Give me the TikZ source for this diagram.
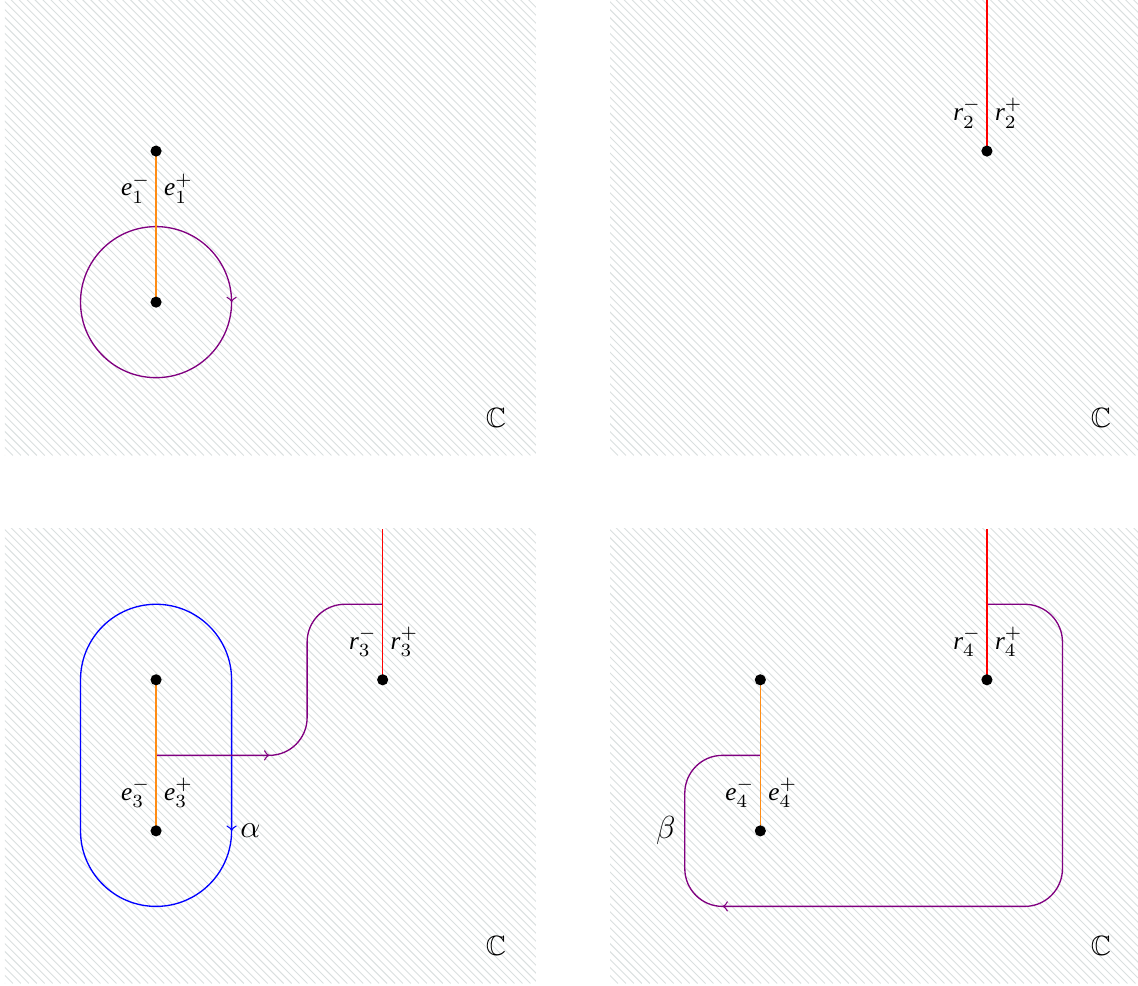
\documentclass[tikz,border=0pt]{standalone}
\usepackage{amssymb}
\usepackage{fontspec}
\setmainfont{Liberation Serif}
\definecolor{hatch}{RGB}{218,223,223}
\definecolor{mypurple}{RGB}{128,0,128}
\definecolor{myorange}{RGB}{255,140,20}
\newcommand{\lbl}[3]{\textit{#1}$_{#2}^{#3}$}
\tikzset{
  dot/.style={circle,fill=black,inner sep=0pt,minimum size=4.2pt},
  cut/.style={myorange,line width=0.5pt},
  ray/.style={red,line width=0.5pt},
  loopline/.style={mypurple,line width=0.5pt,rounded corners=0.5cm},
  bluel/.style={blue,line width=0.5pt},
  lab/.style={inner sep=0pt,font=\fontsize{9.5}{11}\selectfont},
  labl/.style={lab,anchor=east},
  labr/.style={lab,anchor=west},
  greek/.style={inner sep=0pt,font=\fontsize{11.5}{13}\selectfont},
}
\newcommand{\panel}[2]{%
  \begin{scope}
    \clip (#1,#2) rectangle ++(7.03,6.02);
    \foreach \c in {0,0.1054,...,13.2}
      \draw[hatch,line width=0.35pt] ({#1+\c},#2) -- ++(-6.3,6.3);
  \end{scope}
  \node[lab,font=\fontsize{10.5}{12}\selectfont] at ({#1+6.5},{#2+0.5}) {$\mathbb{C}$};
}
\begin{document}
\begin{tikzpicture}
\useasboundingbox (-0.066,-0.046) rectangle (15,13);
\panel{0}{6.97}
\panel{8.01}{6.97}
\panel{0}{-0.02}
\panel{8.01}{-0.02}
% ---------- panel 1
\begin{scope}[shift={(0,7)}]
  \coordinate (a1) at (2,4);
  \coordinate (b1) at (2,2);
  \draw[mypurple,line width=0.5pt] (b1) circle (1);
  \coordinate (m1) at (3,2);
  \draw[mypurple,line width=0.5pt,->] (3,2.08) -- (m1);
  \draw[cut] (a1) -- (b1);
  \node[dot] (da1) at (a1) {};
  \node[dot] (db1) at (b1) {};
  \node[labl] (e1m) at (1.93,3.5) {\lbl{e}{1}{-}};
  \node[labr] (e1p) at (2.1,3.5) {\lbl{e}{1}{+}};
\end{scope}
% ---------- panel 2
\begin{scope}[shift={(8,7)}]
  \coordinate (r2) at (5,4);
  \coordinate (t2) at (5,6.1);
  \draw[ray] (r2) -- (t2);
  \node[dot] (dr2) at (r2) {};
  \node[labl] (r2m) at (4.93,4.5) {\lbl{r}{2}{-}};
  \node[labr] (r2p) at (5.1,4.5) {\lbl{r}{2}{+}};
\end{scope}
% ---------- panel 3
\begin{scope}[shift={(0,0)}]
  \coordinate (a3) at (2,4);
  \coordinate (b3) at (2,2);
  \coordinate (r3) at (5,4);
  \coordinate (t3) at (5,6);
  \coordinate (s3) at (2,3);
  \coordinate (q3) at (5,5);
  \draw[bluel] (3,2) arc (0:-180:1) -- (1,4) arc (180:0:1) -- cycle;
  \draw[bluel,->] (3,2.08) -- (3,2);
  \draw[loopline] (s3) -- (4,3) -- (4,5) -- (q3);
  \draw[mypurple,line width=0.5pt,->] (3.4,3) -- (3.5,3);
  \draw[cut] (a3) -- (b3);
  \draw[ray] (r3) -- (t3);
  \node[dot] (da3) at (a3) {};
  \node[dot] (db3) at (b3) {};
  \node[dot] (dr3) at (r3) {};
  \node[labl] (e3m) at (1.93,2.5) {\lbl{e}{3}{-}};
  \node[labr] (e3p) at (2.1,2.5) {\lbl{e}{3}{+}};
  \node[labl] (r3m) at (4.93,4.5) {\lbl{r}{3}{-}};
  \node[labr] (r3p) at (5.1,4.5) {\lbl{r}{3}{+}};
  \node[greek] (alpha) at (3.25,2) {$\alpha$};
\end{scope}
% ---------- panel 4
\begin{scope}[shift={(8,0)}]
  \coordinate (a4) at (2,4);
  \coordinate (b4) at (2,2);
  \coordinate (r4) at (5,4);
  \coordinate (t4) at (5,6);
  \coordinate (s4) at (2,3);
  \coordinate (q4) at (5,5);
  \draw[loopline] (q4) -- (6,5) -- (6,1) -- (1,1) -- (1,3) -- (s4);
  \draw[mypurple,line width=0.5pt,->] (1.6,1) -- (1.5,1);
  \draw[cut] (a4) -- (b4);
  \draw[ray] (r4) -- (t4);
  \node[dot] (da4) at (a4) {};
  \node[dot] (db4) at (b4) {};
  \node[dot] (dr4) at (r4) {};
  \node[labl] (e4m) at (1.93,2.5) {\lbl{e}{4}{-}};
  \node[labr] (e4p) at (2.1,2.5) {\lbl{e}{4}{+}};
  \node[labl] (r4m) at (4.93,4.5) {\lbl{r}{4}{-}};
  \node[labr] (r4p) at (5.1,4.5) {\lbl{r}{4}{+}};
  \node[greek] (beta) at (0.75,2) {$\beta$};
\end{scope}
\end{tikzpicture}
\end{document}
